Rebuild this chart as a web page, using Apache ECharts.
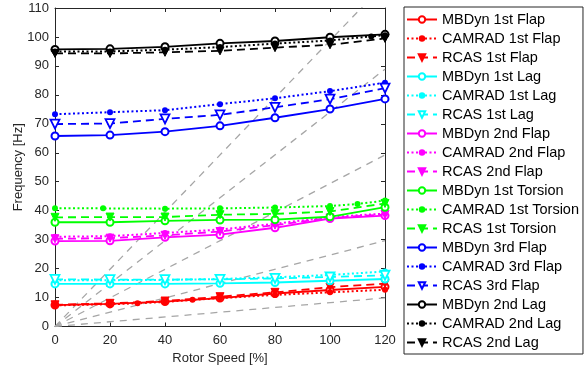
<!DOCTYPE html>
<html><head><meta charset="utf-8">
<script src="https://cdn.jsdelivr.net/npm/echarts@6/dist/echarts.min.js"></script>
<style>html,body{margin:0;padding:0;background:#fff}#c{width:586px;height:369px}</style>
</head><body><div id="c"></div>
<script>
// ---- data ----
const speeds = [0, 20, 40, 60, 80, 100, 120];
const xTicks = [0, 20, 40, 60, 80, 100, 120];

const mbdyn1stFlap = [7.4, 7.8, 8.6, 9.8, 11.4, 12.6, 13.7];
const camrad1stFlapX = [0, 20, 30, 40, 50, 60, 80, 100, 120];
const camrad1stFlap = [7.3, 7.7, 8.0, 8.5, 9.2, 9.8, 10.9, 11.8, 12.7];
const rcas1stFlap = [7.5, 8.0, 8.8, 10.3, 11.8, 13.6, 14.8];

const mbdyn1stLag = [14.7, 14.7, 14.7, 14.9, 15.2, 15.8, 16.4];
const camrad1stLag = [16.0, 16.0, 16.1, 16.4, 17.0, 17.8, 19.0];
const rcas1stLag = [16.3, 16.2, 16.2, 16.3, 16.6, 17.1, 17.7];

const mbdyn2ndFlap = [29.5, 29.6, 30.8, 31.7, 34.1, 37.3, 38.3];
const camrad2ndFlap = [31.0, 31.2, 32.3, 33.5, 35.5, 37.8, 39.0];
const rcas2ndFlap = [30.3, 30.5, 31.5, 32.8, 35.0, 37.5, 38.7];

const mbdyn1stTorsion = [36.0, 36.0, 36.5, 36.8, 36.9, 37.9, 41.2];
const camrad1stTorsionX = [0, 17.5, 40, 60, 80, 100, 110, 120];
const camrad1stTorsion = [40.8, 40.8, 40.7, 40.8, 41.1, 41.6, 42.3, 43.5];
const rcas1stTorsion = [37.7, 37.8, 37.8, 38.6, 38.9, 39.7, 42.5];

const mbdyn3rdFlap = [65.8, 66.1, 67.3, 69.3, 72.1, 75.1, 78.6];
const camrad3rdFlap = [73.3, 74.0, 74.7, 76.8, 78.8, 81.3, 84.2];
const rcas3rdFlap = [69.9, 70.1, 71.7, 73.1, 75.7, 78.5, 82.3];

const mbdyn2ndLag = [95.7, 95.9, 96.6, 97.8, 98.6, 99.9, 100.9];
const camrad2ndLagX = [0, 20, 40, 60, 80, 100, 115, 120];
const camrad2ndLag = [95.0, 95.0, 95.6, 96.5, 97.7, 98.8, 100.2, 100.6];
const rcas2ndLag = [94.3, 94.3, 94.7, 95.2, 96.3, 97.3, 99.5];

// per-rev fan lines
const perRev = [1, 3, 6, 9, 12];
const nominalRotorHz = 8.23; // 1/rev frequency at 100% rotor speed

// ---- build ----
const pair = (xs, ys) => xs.map((x, i) => [x, ys[i]]);
const series = [];
perRev.forEach(n => {
  series.push({
    type: 'line', name: n + '/rev', silent: true, clip: true, symbol: 'none',
    data: [[0, 0], [120, n * nominalRotorHz * 1.2]],
    lineStyle: {color: '#a6a6a6', width: 1.3, type: [7, 6]}, z: 1
  });
});

const groups = [
  {mode: '1st Flap', color: '#ff0000', m: mbdyn1stFlap, cx: camrad1stFlapX, c: camrad1stFlap, r: rcas1stFlap, hollow: false},
  {mode: '1st Lag', color: '#00ffff', m: mbdyn1stLag, cx: speeds, c: camrad1stLag, r: rcas1stLag, hollow: true},
  {mode: '2nd Flap', color: '#ff00ff', m: mbdyn2ndFlap, cx: speeds, c: camrad2ndFlap, r: rcas2ndFlap, hollow: false},
  {mode: '1st Torsion', color: '#00ff00', m: mbdyn1stTorsion, cx: camrad1stTorsionX, c: camrad1stTorsion, r: rcas1stTorsion, hollow: false},
  {mode: '3rd Flap', color: '#0000ff', m: mbdyn3rdFlap, cx: speeds, c: camrad3rdFlap, r: rcas3rdFlap, hollow: true},
  {mode: '2nd Lag', color: '#000000', m: mbdyn2ndLag, cx: camrad2ndLagX, c: camrad2ndLag, r: rcas2ndLag, hollow: false}
];
const legendNames = [];
groups.forEach(g => {
  const nm = 'MBDyn ' + g.mode, nc = 'CAMRAD ' + g.mode, nr = 'RCAS ' + g.mode;
  legendNames.push(nm, nc, nr);
  series.push({
    type: 'line', name: nm, data: pair(speeds, g.m), z: 3,
    symbol: 'emptyCircle', symbolSize: 7, showAllSymbol: true,
    lineStyle: {color: g.color, width: 1.8, type: 'solid'},
    itemStyle: {color: g.color, borderColor: g.color, borderWidth: 1.8}
  });
  series.push({
    type: 'line', name: nc, data: pair(g.cx, g.c), z: 3,
    symbol: 'circle', symbolSize: 6,
    lineStyle: {color: g.color, width: 2, type: [2, 2.5]},
    itemStyle: {color: g.color}
  });
  series.push({
    type: 'line', name: nr, data: pair(speeds, g.r), z: 3,
    symbol: 'triangle', symbolRotate: 180, symbolSize: g.hollow ? 9 : 8,
    lineStyle: {color: g.color, width: 1.8, type: [8, 5]},
    itemStyle: g.hollow ? {color: '#ffffff', borderColor: g.color, borderWidth: 1.8}
                        : {color: g.color, borderColor: g.color, borderWidth: 1}
  });
});

const axisCol = '#262626';
const font = 'Liberation Sans, Arial, Helvetica, sans-serif';
const chart = echarts.init(document.getElementById('c'), null, {renderer: 'canvas'});
chart.setOption({
  animation: false,
  backgroundColor: '#ffffff',
  grid: {left: 55, right: 201, top: 8, bottom: 42.5, containLabel: false, outerBoundsMode: 'none'},
  legend: {
    data: legendNames, orient: 'vertical', left: 404, top: 7,
    itemWidth: 30, itemHeight: 8, itemGap: 4,
    padding: [5, 4, 4, 2],
    borderColor: axisCol, borderWidth: 1, backgroundColor: '#fff',
    textStyle: {fontFamily: font, fontSize: 14.5, color: '#000', lineHeight: 14},
    selectedMode: false
  },
  xAxis: [{
    type: 'value', min: 0, max: 120, interval: 20, position: 'bottom',
    name: 'Rotor Speed [%]', nameLocation: 'middle', nameGap: 25,
    nameTextStyle: {fontFamily: font, fontSize: 13, color: axisCol},
    axisLine: {show: true, onZero: false, lineStyle: {color: axisCol, width: 1}},
    axisTick: {show: true, inside: true, length: 4, lineStyle: {color: axisCol}},
    axisLabel: {fontFamily: font, fontSize: 13, color: axisCol, margin: 7,
      formatter: v => xTicks.includes(v) ? String(v) : ''},
    splitLine: {show: false}
  }, {
    type: 'value', min: 0, max: 120, interval: 20, position: 'top',
    axisLine: {show: true, onZero: false, lineStyle: {color: axisCol, width: 1}},
    axisTick: {show: true, inside: true, length: 4, lineStyle: {color: axisCol}},
    axisLabel: {show: false}, splitLine: {show: false}
  }],
  yAxis: [{
    type: 'value', min: 0, max: 110, interval: 10, position: 'left',
    name: 'Frequency [Hz]', nameLocation: 'middle', nameGap: 30, nameMoveOverlap: false,
    nameTextStyle: {fontFamily: font, fontSize: 13, color: axisCol},
    axisLine: {show: true, onZero: false, lineStyle: {color: axisCol, width: 1}},
    axisTick: {show: true, inside: true, length: 4, lineStyle: {color: axisCol}},
    axisLabel: {fontFamily: font, fontSize: 13, color: axisCol, margin: 6},
    splitLine: {show: false}
  }, {
    type: 'value', min: 0, max: 110, interval: 10, position: 'right',
    axisLine: {show: true, onZero: false, lineStyle: {color: axisCol, width: 1}},
    axisTick: {show: true, inside: true, length: 4, lineStyle: {color: axisCol}},
    axisLabel: {show: false}, splitLine: {show: false}
  }],
  series: series
});
</script></body></html>
